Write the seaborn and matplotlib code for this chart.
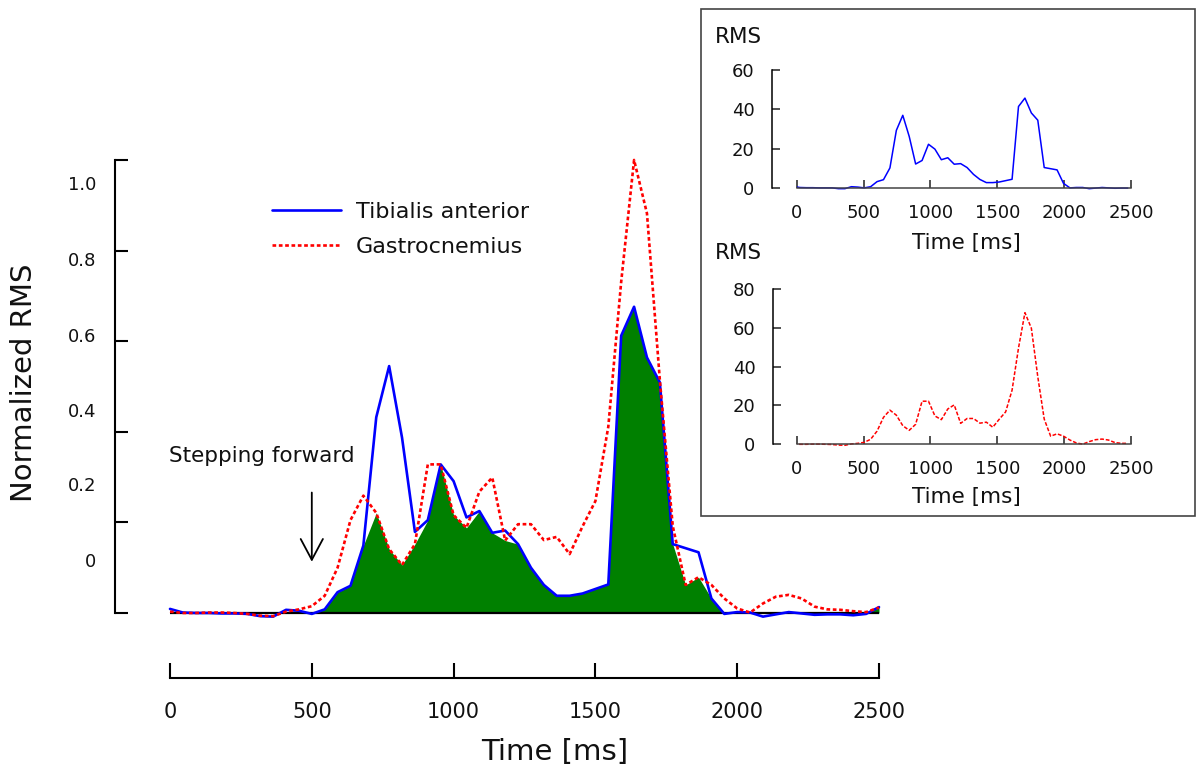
import numpy as np
import pandas as pd
import matplotlib
matplotlib.use("Agg")
import matplotlib.pyplot as plt
import seaborn as sns
from matplotlib.patches import Rectangle

# ---------------- data ----------------
# main panel: normalized RMS, 56 samples spanning 0-2500 ms
main_time = np.linspace(0, 2500, 56)
ta_norm = [0.009, 0.001, 0.0, 0.0, -0.001, -0.001, -0.002, -0.007, -0.008, 0.007,
           0.005, -0.002, 0.008, 0.046, 0.060, 0.149, 0.432, 0.545, 0.387, 0.179,
           0.205, 0.328, 0.291, 0.211, 0.225, 0.177, 0.182, 0.152, 0.100, 0.062,
           0.038, 0.038, 0.043, 0.053, 0.063, 0.612, 0.676, 0.564, 0.509, 0.152,
           0.143, 0.134, 0.032, -0.002, 0.002, 0.001, -0.008, -0.003, 0.002, -0.001,
           -0.004, -0.003, -0.003, -0.005, -0.002, 0.013]
gas_norm = [0.003, 0.0, 0.0, 0.001, 0.001, 0.0, -0.002, -0.006, -0.007, 0.003,
            0.008, 0.015, 0.038, 0.100, 0.205, 0.259, 0.221, 0.141, 0.106, 0.152,
            0.328, 0.328, 0.216, 0.188, 0.268, 0.299, 0.160, 0.196, 0.196, 0.161,
            0.168, 0.130, 0.191, 0.247, 0.411, 0.731, 1.000, 0.882, 0.514, 0.192,
            0.062, 0.079, 0.062, 0.032, 0.010, 0.001, 0.021, 0.036, 0.040, 0.032,
            0.014, 0.008, 0.007, 0.004, 0.002, 0.012]

# insets: raw RMS, 53 samples
inset_time = np.linspace(-24, 2476, 53)
ta_rms = [0.6, 0.1, 0, 0, -0.1, -0.1, -0.1, -0.5, -0.5, 0.5, 0.3, -0.1, 0.5, 3.1, 4.1,
          10.1, 29.3, 37.0, 26.2, 12.1, 13.9, 22.2, 19.7, 14.3, 15.3, 12.0, 12.3, 10.3,
          6.8, 4.2, 2.6, 2.6, 2.9, 3.6, 4.3, 41.5, 45.8, 38.2, 34.5, 10.3, 9.7, 9.1,
          2.2, -0.1, 0.1, 0.1, -0.5, -0.2, 0.1, -0.1, -0.3, -0.2, -0.2]
gas_rms = [0.2, 0, 0, 0.1, 0.1, 0, -0.1, -0.4, -0.5, 0.2, 0.5, 1.0, 2.6, 6.8, 13.9,
           17.6, 15.0, 9.6, 7.2, 10.3, 22.2, 22.2, 14.6, 12.7, 18.2, 20.3, 10.8, 13.3,
           13.3, 10.9, 11.4, 8.8, 12.9, 16.7, 27.9, 49.6, 67.8, 59.8, 34.8, 13.0, 4.2,
           5.4, 4.2, 2.2, 0.7, 0.1, 1.4, 2.4, 2.7, 2.2, 0.9, 0.5, 0.5]

series_names = ["Tibialis anterior", "Gastrocnemius"]
x_ticks = [0, 500, 1000, 1500, 2000, 2500]
y_ticks = [0, 0.2, 0.4, 0.6, 0.8, 1.0]
y_tick_labels = ["0", "0.2", "0.4", "0.6", "0.8", "1.0"]
# the reference prints its y labels evenly but offset from the tick marks
y_label_pos = [0.117, 0.284, 0.448, 0.614, 0.781, 0.949]

BLUE = "#0000ff"
RED = "#ff0000"
GREEN = "#008000"

sns.set_theme(style="ticks")
plt.rcParams["font.family"] = ["DejaVu Sans"]
plt.rcParams["text.color"] = "#111111"
plt.rcParams["axes.labelcolor"] = "#111111"
plt.rcParams["xtick.color"] = "#111111"
plt.rcParams["ytick.color"] = "#111111"

fig = plt.figure(figsize=(11.98, 7.67), dpi=100)

# ---------------- main axes ----------------
ax = fig.add_axes([170 / 1198, 1 - 678 / 767, 709 / 1198, 528 / 767])
ax.set_xlim(0, 2500)
ax.set_ylim(-0.1435, 1.022)

cocontraction = np.clip(np.minimum(ta_norm, gas_norm), 0, None)
ax.fill_between(main_time, 0, cocontraction, color=GREEN, lw=0, zorder=1)
ax.axhline(0, color="black", lw=1.6, zorder=2)

sns.lineplot(x=main_time, y=ta_norm, ax=ax, color=BLUE, lw=1.9,
             label=series_names[0], zorder=4, clip_on=False)
sns.lineplot(x=main_time, y=gas_norm, ax=ax, color=RED, lw=1.9,
             linestyle=(0, (1.4, 1.0)), label=series_names[1], zorder=5, clip_on=False)

for s in ["top", "right"]:
    ax.spines[s].set_visible(False)
ax.spines["left"].set_position(("outward", 55 * 0.72))
ax.spines["left"].set_bounds(0, 1.0)
ax.spines["bottom"].set_bounds(0, 2500)
for s in ["left", "bottom"]:
    ax.spines[s].set_linewidth(1.5)
    ax.spines[s].set_color("black")

ax.set_xticks(x_ticks)
ax.set_xticklabels([str(v) for v in x_ticks], fontsize=15)
ax.tick_params(axis="x", direction="in", length=10.8, width=1.5, pad=17.5, color="black")

ax.set_yticks(y_label_pos)
ax.set_yticklabels(y_tick_labels, fontsize=13)
ax.tick_params(axis="y", which="major", length=0, pad=13.5)
ax.set_yticks(y_ticks, minor=True)
ax.tick_params(axis="y", which="minor", direction="in", length=9.4, width=1.5,
               color="black")
ax.yaxis.set_minor_formatter(plt.NullFormatter())

ax.set_xlabel("Time [ms]", fontsize=21, va="center")
ax.xaxis.set_label_coords(0.543, -0.140)
ax.set_ylabel("Normalized RMS", fontsize=21, va="center", ha="center")
ax.yaxis.set_label_coords(-0.206, 0.559)

ax.text(324, 0.347, "Stepping forward", fontsize=15.5, ha="center", va="center")
ax.annotate("", xy=(500, 0.107), xytext=(500, 0.272),
            arrowprops=dict(arrowstyle="->,head_length=0.75,head_width=0.4",
                            lw=1.3, color="black", mutation_scale=20))

ax.legend(loc="center left", bbox_to_anchor=(272 / 1198, 1 - 229.5 / 767),
          bbox_transform=fig.transFigure, frameon=False, fontsize=16,
          handlelength=3.1, handletextpad=0.68, labelspacing=0.68,
          borderpad=0, borderaxespad=0)
ax.grid(False)

# ---------------- inset frame ----------------
frame = Rectangle((701 / 1198, 1 - 516 / 767), 494 / 1198, 507 / 767,
                  transform=fig.transFigure, facecolor="white",
                  edgecolor="#444444", lw=1.2, zorder=10)
fig.add_artist(frame)


def style_inset(iax, ymax, ytks, left_out_px):
    iax.set_facecolor("none")
    iax.set_xlim(0, 2500)
    for s in ["top", "right"]:
        iax.spines[s].set_visible(False)
    iax.spines["left"].set_position(("outward", left_out_px * 0.72))
    iax.spines["left"].set_bounds(0, ymax)
    iax.spines["left"].set_color("black")
    iax.spines["left"].set_linewidth(1.1)
    iax.spines["bottom"].set_position(("data", 0))
    iax.spines["bottom"].set_bounds(0, 2500)
    iax.spines["bottom"].set_color("#444444")
    iax.spines["bottom"].set_linewidth(1.1)
    iax.set_xticks(x_ticks)
    iax.set_xticklabels([str(v) for v in x_ticks], fontsize=13)
    iax.set_yticks(ytks)
    iax.set_yticklabels([str(v) for v in ytks], fontsize=13)
    iax.tick_params(axis="x", direction="in", length=5.5, width=1.1, pad=11.5,
                    color="#222222")
    iax.tick_params(axis="y", direction="in", length=5.8, width=1.1, pad=12.5,
                    color="#222222")
    iax.grid(False)


# inset 1: tibialis anterior
ax1 = fig.add_axes([796.7 / 1198, 1 - 191.6 / 767, 334.3 / 1198, 125.2 / 767], zorder=11)
sns.lineplot(x=inset_time, y=ta_rms, ax=ax1, color=BLUE, lw=1.1)
ax1.set_ylim(-2, 62)
style_inset(ax1, 60, [0, 20, 40, 60], 25)
ax1.set_xlabel("Time [ms]", fontsize=15.5, va="center")
ax1.xaxis.set_label_coords(0.508, -0.413)
ax1.set_ylabel("RMS", fontsize=15.5, rotation=0, ha="left", va="center")
ax1.yaxis.set_label_coords(-0.2444, 1.237)

# inset 2: gastrocnemius
ax2 = fig.add_axes([796.7 / 1198, 1 - 448.2 / 767, 334.3 / 1198, 163.1 / 767], zorder=11)
sns.lineplot(x=inset_time, y=gas_rms, ax=ax2, color=RED, lw=1.1,
             linestyle=(0, (2.5, 1.2)))
ax2.set_ylim(-2, 82)
style_inset(ax2, 80, [0, 20, 40, 60, 80], 24)
ax2.set_xlabel("Time [ms]", fontsize=15.5, va="center")
ax2.xaxis.set_label_coords(0.508, -0.301)
ax2.set_ylabel("RMS", fontsize=15.5, rotation=0, ha="left", va="center")
ax2.yaxis.set_label_coords(-0.2444, 1.195)

fig.savefig("out.png", dpi=100)
